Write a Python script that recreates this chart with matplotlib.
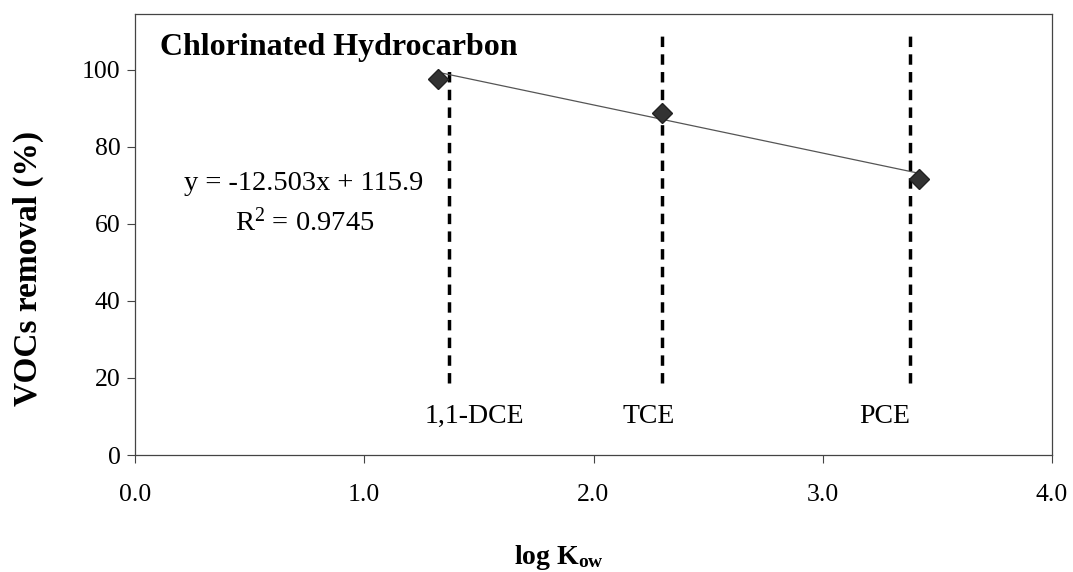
import matplotlib
matplotlib.use("Agg")
import matplotlib.pyplot as plt
import numpy as np

plt.rcParams['font.family'] = ['Liberation Serif', 'DejaVu Serif']
plt.rcParams['mathtext.fontset'] = 'custom'
plt.rcParams['mathtext.rm'] = 'Liberation Serif'
plt.rcParams['mathtext.it'] = 'Liberation Serif:italic'
plt.rcParams['mathtext.bf'] = 'Liberation Serif:bold'

# Measured removal vs. log Kow
compounds = ["1,1-DCE", "TCE", "PCE"]
log_kow = [1.32, 2.30, 3.42]
removal = [97.7, 88.8, 71.7]

# Linear fit reported on the chart
slope = -12.503
intercept = 115.9
r_squared = 0.9745

# Reference lines marking each compound
marker_x = [1.37, 2.30, 3.38]
marker_top = [100.5, 109.6, 109.6]
marker_bottom = [18.7, 18.7, 18.7]
label_x = [1.48, 2.24, 3.27]

x_ticks = [0.0, 1.0, 2.0, 3.0, 4.0]
y_ticks = [0, 20, 40, 60, 80, 100]

fig = plt.figure(figsize=(10.73, 5.72), dpi=100)
ax = fig.add_axes([135 / 1073, 1 - 455 / 572, (1052 - 135) / 1073, (455 - 14) / 572])

for xv, top, bot in zip(marker_x, marker_top, marker_bottom):
    ax.plot([xv, xv], [bot, top], color='black', lw=2.5, linestyle=(0, (3.0, 2.1)), zorder=2)

xs = np.array([min(log_kow), max(log_kow)])
ax.plot(xs, slope * xs + intercept, color='#555555', lw=0.9, zorder=3)

ax.plot(log_kow, removal, linestyle='none', marker='D', markersize=10,
        color='#333333', markeredgecolor='#222222', zorder=4)

for name, lx in zip(compounds, label_x):
    ax.text(lx, 9.9, name, ha='center', va='center', fontsize=20)

ax.text(0.11, 105.7, "Chlorinated Hydrocarbon", fontsize=23, fontweight='bold',
        ha='left', va='center')
ax.text(0.734, 70.6, f"y = {slope}x + {intercept}", fontsize=20.5, ha='center', va='center')
ax.text(0.74, 60.5, f"R$^2$ = {r_squared}", fontsize=20.5, ha='center', va='center')

ax.set_xlim(0, 4)
ax.set_ylim(0, 114.5)
ax.set_xticks(x_ticks)
ax.set_xticklabels([f"{v:.1f}" for v in x_ticks], fontsize=18.5)
ax.set_yticks(y_ticks)
ax.set_yticklabels([str(v) for v in y_ticks], fontsize=18.5)
ax.tick_params(direction='out', length=6, width=0.8, color='#444444')
ax.tick_params(axis='y', pad=4.5)
ax.tick_params(axis='x', pad=15)

for sp in ax.spines.values():
    sp.set_color('#444444')
    sp.set_linewidth(0.9)

ax.set_ylabel("VOCs removal (%)", fontsize=24, fontweight='bold', va='center')
ax.yaxis.set_label_coords(-0.116, 0.424)
ax.set_xlabel(r"log K$_{\mathbf{ow}}$", fontsize=20, fontweight='bold', va='top')
ax.xaxis.set_label_coords(0.462, -0.200)

fig.savefig("out.png", dpi=100)
